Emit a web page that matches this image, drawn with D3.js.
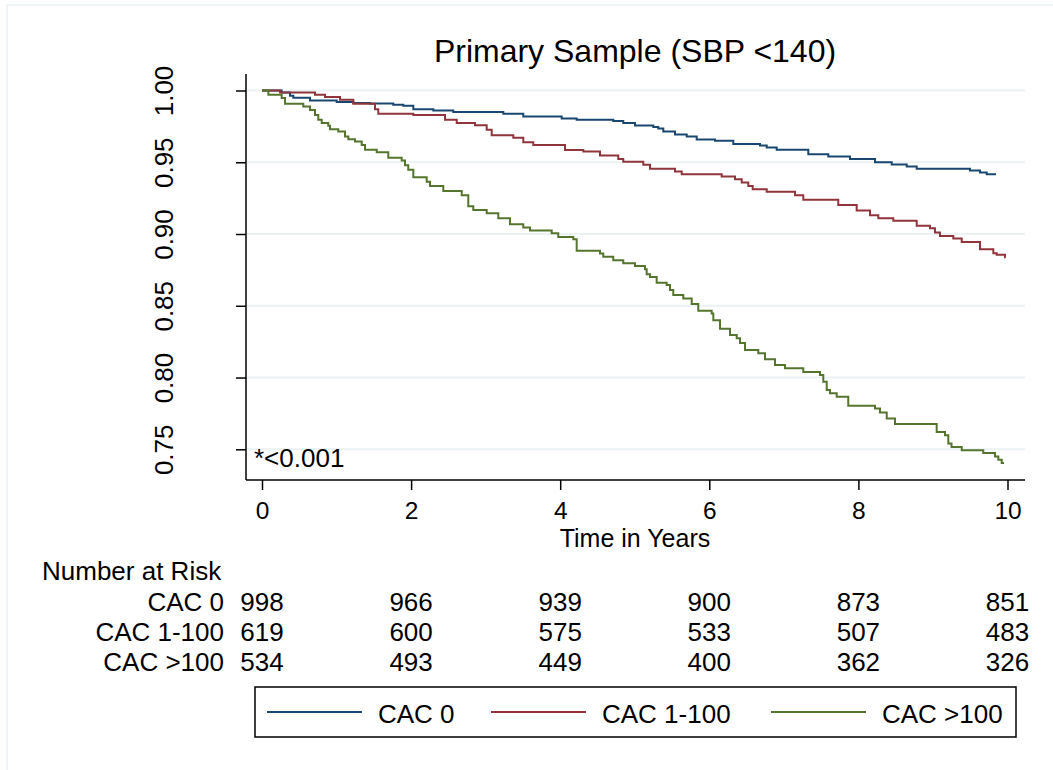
<!DOCTYPE html>
<html lang="en">
  <head>
    <meta charset="UTF-8" />
    <title>Primary Sample (SBP &lt;140)</title>
    <style>
      body {
        margin: 0;
        background: #fff;
      }
      svg text {
        font-family: "Liberation Sans", Arial, Helvetica, sans-serif;
        fill: #000;
      }
    </style>
  </head>
  <body>
    <svg id="chart" width="1053" height="770"></svg>

    <script src="https://d3js.org/d3.v7.min.js"></script>
    <script>
      // Kaplan-Meier step points: [years, survival]
      const cac0 = [
        [0, 1], [0.264, 0.9986], [0.376, 0.9963], [0.42, 0.9949], [0.644, 0.993],
        [1.002, 0.992], [1.225, 0.9913], [1.449, 0.991], [1.761, 0.990], [1.895, 0.9893],
        [2.03, 0.987], [2.298, 0.986], [2.566, 0.985], [3.237, 0.9838], [3.505, 0.9819],
        [4.02, 0.9805], [4.221, 0.9796], [4.712, 0.9787], [4.846, 0.9773], [5.003, 0.9756],
        [5.249, 0.9745], [5.316, 0.9735], [5.383, 0.9714], [5.54, 0.9693], [5.697, 0.968],
        [5.831, 0.9658], [6.076, 0.965], [6.322, 0.9628], [6.68, 0.9617], [6.77, 0.9603],
        [6.904, 0.9587], [7.328, 0.9556], [7.596, 0.954], [7.887, 0.9522], [8.223, 0.95],
        [8.447, 0.9484], [8.648, 0.947], [8.782, 0.9454], [9.497, 0.9442], [9.631, 0.9428],
        [9.721, 0.9417], [9.846, 0.9417]
      ];
      const cac1to100 = [
        [0, 1], [0.241, 0.9986], [0.711, 0.997], [0.845, 0.9954], [1.046, 0.9935],
        [1.225, 0.9907], [1.516, 0.987], [1.56, 0.9838], [2.03, 0.983], [2.455, 0.9796],
        [2.612, 0.9773], [2.857, 0.9758], [3.014, 0.9726], [3.081, 0.9689], [3.371, 0.967],
        [3.505, 0.964], [3.639, 0.9621], [4.064, 0.9586], [4.31, 0.9575], [4.534, 0.9547],
        [4.779, 0.9522], [4.846, 0.9503], [5.115, 0.9482], [5.205, 0.9454], [5.54, 0.9436],
        [5.63, 0.9417], [6.166, 0.94], [6.345, 0.9382], [6.435, 0.9359], [6.523, 0.9335],
        [6.582, 0.9312], [6.77, 0.9294], [7.15, 0.927], [7.261, 0.9238], [7.73, 0.9203],
        [7.977, 0.9164], [8.156, 0.9131], [8.267, 0.911], [8.468, 0.9092], [8.782, 0.9057],
        [8.96, 0.904], [9.027, 0.901], [9.094, 0.8987], [9.273, 0.8968], [9.386, 0.8945],
        [9.631, 0.8894], [9.81, 0.8866], [9.855, 0.8855], [9.966, 0.8838], [9.976, 0.8838]
      ];
      const cacOver100 = [
        [0, 1], [0.085, 0.997], [0.264, 0.9947], [0.309, 0.9907], [0.554, 0.9889],
        [0.644, 0.9865], [0.711, 0.983], [0.755, 0.9796], [0.801, 0.9773], [0.889, 0.9754],
        [0.912, 0.973], [1.023, 0.9714], [1.113, 0.968], [1.158, 0.966], [1.247, 0.9645],
        [1.337, 0.962], [1.382, 0.9587], [1.539, 0.957], [1.694, 0.9531], [1.874, 0.9512],
        [1.918, 0.948], [1.962, 0.9447], [2.03, 0.9396], [2.209, 0.9365], [2.254, 0.9335],
        [2.432, 0.93], [2.679, 0.927], [2.767, 0.9193], [2.834, 0.9168], [3.014, 0.9145],
        [3.17, 0.911], [3.327, 0.9068], [3.505, 0.9045], [3.595, 0.9024], [3.886, 0.9005],
        [3.974, 0.898], [4.176, 0.8963], [4.221, 0.8884], [4.534, 0.8865], [4.578, 0.8842],
        [4.712, 0.8818], [4.846, 0.8797], [5.003, 0.8778], [5.137, 0.8755], [5.16, 0.872],
        [5.205, 0.87], [5.294, 0.866], [5.428, 0.8645], [5.473, 0.861], [5.517, 0.8575],
        [5.651, 0.855], [5.764, 0.8512], [5.852, 0.8465], [6.032, 0.8447], [6.054, 0.84],
        [6.144, 0.834], [6.278, 0.8297], [6.368, 0.8273], [6.412, 0.824], [6.479, 0.8192],
        [6.657, 0.8169], [6.747, 0.8127], [6.881, 0.8087], [7.015, 0.8064], [7.261, 0.8038],
        [7.485, 0.8018], [7.529, 0.797], [7.575, 0.7913], [7.619, 0.789], [7.709, 0.7866],
        [7.864, 0.7803], [8.223, 0.7785], [8.29, 0.7757], [8.38, 0.7715], [8.491, 0.7676],
        [9.05, 0.762], [9.162, 0.7598], [9.206, 0.754], [9.249, 0.7516], [9.386, 0.7493],
        [9.675, 0.7474], [9.832, 0.745], [9.877, 0.7428], [9.922, 0.7404], [9.953, 0.7404]
      ];

      const groupNames = ["CAC 0", "CAC 1-100", "CAC >100"];
      const groupColors = ["#1a476f", "#90353b", "#55752f"];
      const xTicks = [0, 2, 4, 6, 8, 10];
      const yTicks = [0.75, 0.8, 0.85, 0.9, 0.95, 1.0];
      const atRisk = [
        [998, 966, 939, 900, 873, 851],
        [619, 600, 575, 533, 507, 483],
        [534, 493, 449, 400, 362, 326]
      ];

      const svg = d3.select("#chart");
      const plot = { left: 246, right: 1025, top: 74, bottom: 480 };

      const x = d3.scaleLinear().domain([0, 10]).range([262, 1007.5]);
      const y = d3.scaleLinear().domain([0.75, 1]).range([449.3, 90.5]);

      // faint outer frame
      svg.append("rect")
        .attr("x", 7).attr("y", 5)
        .attr("width", 1080).attr("height", 800)
        .attr("fill", "none").attr("stroke", "#eaf2f3").attr("stroke-width", 1.5);

      // gridlines
      svg.append("g").selectAll("line").data(yTicks).join("line")
        .attr("x1", plot.left).attr("x2", plot.right)
        .attr("y1", d => y(d)).attr("y2", d => y(d))
        .attr("stroke", "#eaf2f3").attr("stroke-width", 2);

      // y axis
      const yAxis = svg.append("g")
        .attr("transform", `translate(${plot.left},0)`)
        .call(d3.axisLeft(y).tickValues(yTicks).tickSize(10).tickFormat(d3.format(".2f")));
      yAxis.select(".domain").remove();
      yAxis.selectAll(".tick line").attr("stroke", "#000").attr("stroke-width", 1.5);
      yAxis.selectAll(".tick text")
        .attr("font-size", 26).attr("x", 0).attr("dy", null)
        .attr("text-anchor", "middle")
        .attr("transform", "translate(-73,0) rotate(-90)");
      svg.append("line")
        .attr("x1", plot.left).attr("x2", plot.left)
        .attr("y1", plot.top).attr("y2", plot.bottom)
        .attr("stroke", "#000").attr("stroke-width", 1.5);

      // x axis
      const xAxis = svg.append("g")
        .attr("transform", `translate(0,${plot.bottom})`)
        .call(d3.axisBottom(x).tickValues(xTicks).tickSize(10).tickFormat(d3.format("d")));
      xAxis.select(".domain").remove();
      xAxis.selectAll(".tick line").attr("stroke", "#000").attr("stroke-width", 1.5);
      xAxis.selectAll(".tick text")
        .attr("font-size", 24.5).attr("y", 39).attr("dy", null);
      svg.append("line")
        .attr("x1", plot.left).attr("x2", plot.right)
        .attr("y1", plot.bottom).attr("y2", plot.bottom)
        .attr("stroke", "#000").attr("stroke-width", 1.5);

      // survival curves
      const line = d3.line()
        .x(d => x(d[0]))
        .y(d => y(d[1]))
        .curve(d3.curveStepAfter);
      [cac0, cac1to100, cacOver100].forEach((s, i) => {
        svg.append("path")
          .datum(s)
          .attr("d", line)
          .attr("fill", "none")
          .attr("stroke", groupColors[i])
          .attr("stroke-width", 2);
      });

      // titles and annotation
      svg.append("text")
        .attr("x", 635).attr("y", 62)
        .attr("text-anchor", "middle").attr("font-size", 32)
        .text("Primary Sample (SBP <140)");
      svg.append("text")
        .attr("x", 635).attr("y", 546.5)
        .attr("text-anchor", "middle").attr("font-size", 25)
        .text("Time in Years");
      svg.append("text")
        .attr("x", 254).attr("y", 467)
        .attr("font-size", 26)
        .text("*<0.001");

      // number at risk table
      svg.append("text")
        .attr("x", 42).attr("y", 580).attr("font-size", 26)
        .text("Number at Risk");
      const rowY = [610.5, 641, 671];
      groupNames.forEach((g, i) => {
        svg.append("text")
          .attr("x", 224).attr("y", rowY[i])
          .attr("text-anchor", "end").attr("font-size", 26)
          .text(g);
        svg.append("g").selectAll("text").data(atRisk[i]).join("text")
          .attr("x", (d, j) => x(xTicks[j]))
          .attr("y", rowY[i])
          .attr("text-anchor", "middle").attr("font-size", 26)
          .text(d => d);
      });

      // legend
      const legend = svg.append("g");
      legend.append("rect")
        .attr("x", 255).attr("y", 687)
        .attr("width", 761).attr("height", 50)
        .attr("fill", "#fff").attr("stroke", "#000").attr("stroke-width", 1.5);
      const legendX = [267, 491, 771];
      groupNames.forEach((g, i) => {
        legend.append("line")
          .attr("x1", legendX[i]).attr("x2", legendX[i] + 95)
          .attr("y1", 712).attr("y2", 712)
          .attr("stroke", groupColors[i]).attr("stroke-width", 2);
        legend.append("text")
          .attr("x", legendX[i] + 111).attr("y", 723)
          .attr("font-size", 26)
          .text(g);
      });
    </script>
  </body>
</html>
